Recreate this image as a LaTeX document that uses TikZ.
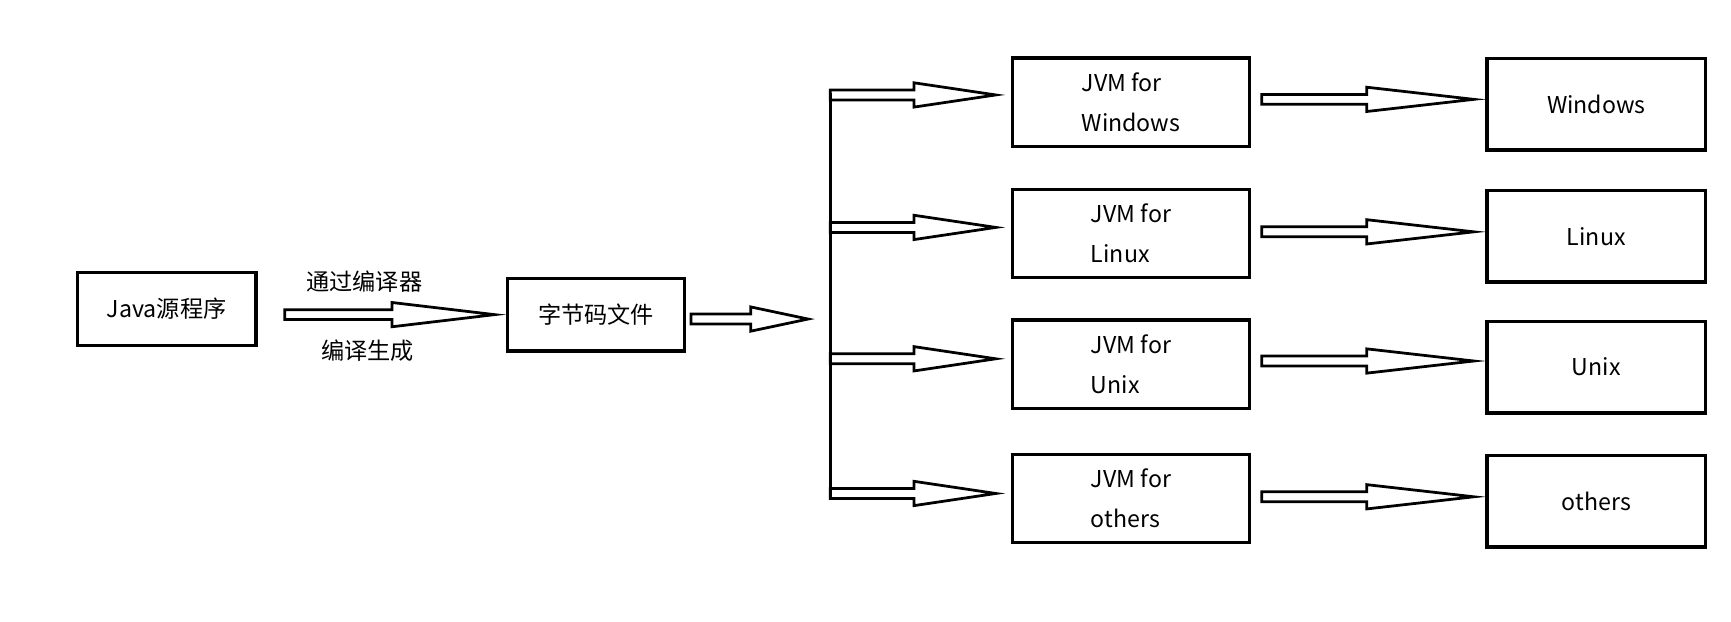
\documentclass[tikz,border=0pt]{standalone}
\usepackage{fontspec}
\setmainfont{Noto Sans CJK SC}
\begin{document}
\begin{tikzpicture}[x=1pt,y=-1pt,
  box/.style={draw,line width=3pt,inner sep=0pt,font=\fontsize{21}{36}\selectfont,align=left},
  lbl/.style={font=\fontsize{21}{24}\selectfont}]
\useasboundingbox (0,0) rectangle (1568,563);
\newcommand\blockarr[4]{% x1, x2, y, head length
  \draw[line width=2.5pt,line join=miter] (#1,#3-4.5) -- ({#2-#4},#3-4.5) -- ({#2-#4},#3-11) -- (#2,#3) -- ({#2-#4},#3+11) -- ({#2-#4},#3+4.5) -- (#1,#3+4.5) -- cycle;}
\node[box,minimum width=162pt,minimum height=66pt] (java) at (151,280) {Java源程序};
\node[box,minimum width=160pt,minimum height=66pt] (bc) at (540,285) {字节码文件};
\node[lbl] (t1) at (330,255) {通过编译器};
\node[lbl] (t2) at (333,318) {编译生成};
\foreach \y/\n/\t in {92.5/jw/Windows,211.5/jl/Linux,330/ju/Unix,451.5/jo/others}{
  \node[box,minimum width=215pt,minimum height=80pt] (\n) at (1024.5,\y) {JVM for\\\t};}
\foreach \y/\n/\t in {94.5/ow/Windows,214/ol/Linux,332.5/ou/Unix,454/oo/others}{
  \node[box,minimum width=198pt,minimum height=83pt] (\n) at (1446,\y) {\t};}
\blockarr{258}{448}{285}{93}
\blockarr{626}{732}{289}{52}
\draw[line width=3pt] (752,84) -- (752,450);
\foreach \y in {86,206,325,447}{\blockarr{752}{902}{\y}{74}}
\foreach \y in {90,210,327,450}{\blockarr{1143}{1335}{\y}{97}}
\end{tikzpicture}
\end{document}
